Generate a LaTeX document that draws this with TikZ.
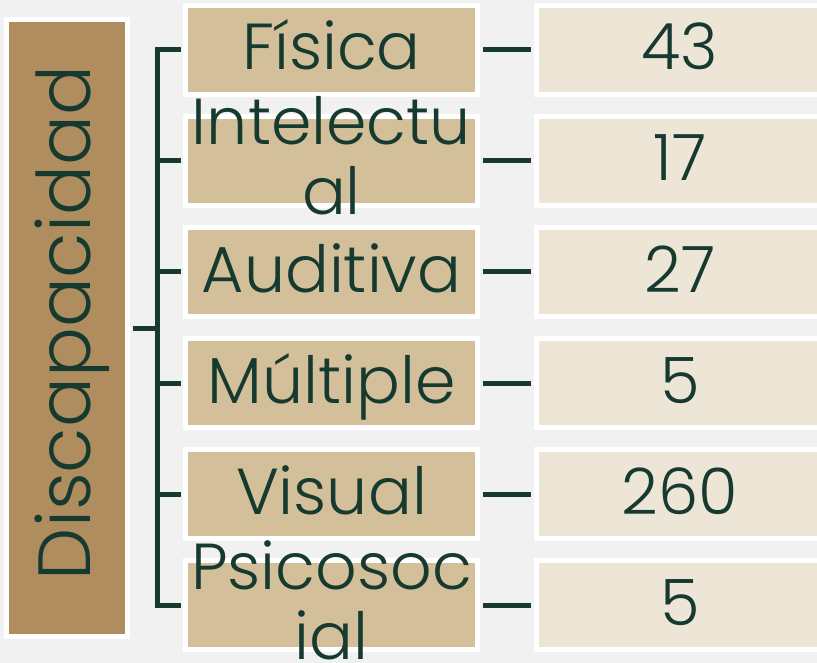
\documentclass[tikz,border=0pt]{standalone}
\usepackage{fontspec}
\setmainfont{Poppins}[UprightFont={* Light}]
\usetikzlibrary{positioning}
\definecolor{verde}{HTML}{163A2F}
\definecolor{cafe}{HTML}{B08D5E}
\definecolor{arena}{HTML}{D3BF99}
\definecolor{crema}{HTML}{EDE6D7}
\definecolor{fondo}{HTML}{F1F1F1}

\begin{document}
\begin{tikzpicture}[x=1pt,y=-1pt,
    caja/.style={draw=white,line width=5pt,text=verde,inner sep=0pt},
    tipo/.style={caja,fill=arena,minimum width=292pt,minimum height=89pt,
      font=\fontsize{65}{70}\selectfont,text height=40pt,text depth=0pt},
    cifra/.style={caja,fill=crema,minimum width=287pt,minimum height=89pt,
      font=\fontsize{64}{70}\selectfont,text height=40pt,text depth=0pt},
    texto/.style={text=verde,inner sep=0pt,anchor=base,font=\fontsize{65}{70}\selectfont},
    linea/.style={verde,line width=5pt}]
  \path[use as bounding box,clip] (0,0) rectangle (817,663);
  \fill[fondo] (0,0) rectangle (817,663);
  \node[caja,fill=cafe,rotate=90,minimum width=617pt,minimum height=121pt,
    font=\fontsize{74}{80}\selectfont,text height=46pt,text depth=0pt] (disc) at (67,328) {\hspace{10pt}Discapacidad};
  \foreach \n/\y/\t/\v in {1/50/Física/43,2/161//17,3/272/Auditiva/27,4/383/Múltiple/5,5/494/Visual/260,6/605//5}{
    \node[tipo] (m\n) at (331.5,\y) {\t};
    \node[cifra] (v\n) at (680,\y) {\v};
    \draw[linea,shorten <=2.5pt,shorten >=3.5pt] (m\n.east) -- (v\n.west);
  }
  \node[texto] (m2a) at (331.5,145) {Intelectu};
  \node[texto] (m2b) at (331.5,215) {al};
  \node[texto] (m6a) at (331.5,589) {Psicosoc};
  \node[texto] (m6b) at (331.5,659) {ial};
  \coordinate (eje) at (157,328);
  \draw[linea,shorten <=2.5pt,shorten >=2.5pt] (m1.west) -- (eje |- m1.west) -- (eje |- m6.west) -- (m6.west);
  \foreach \n in {2,3,4,5}
    \draw[linea,shorten >=2.5pt] (eje |- m\n.west) -- (m\n.west);
  \draw[linea,shorten <=2.5pt] (disc.south) -- (eje);
\end{tikzpicture}
\end{document}
